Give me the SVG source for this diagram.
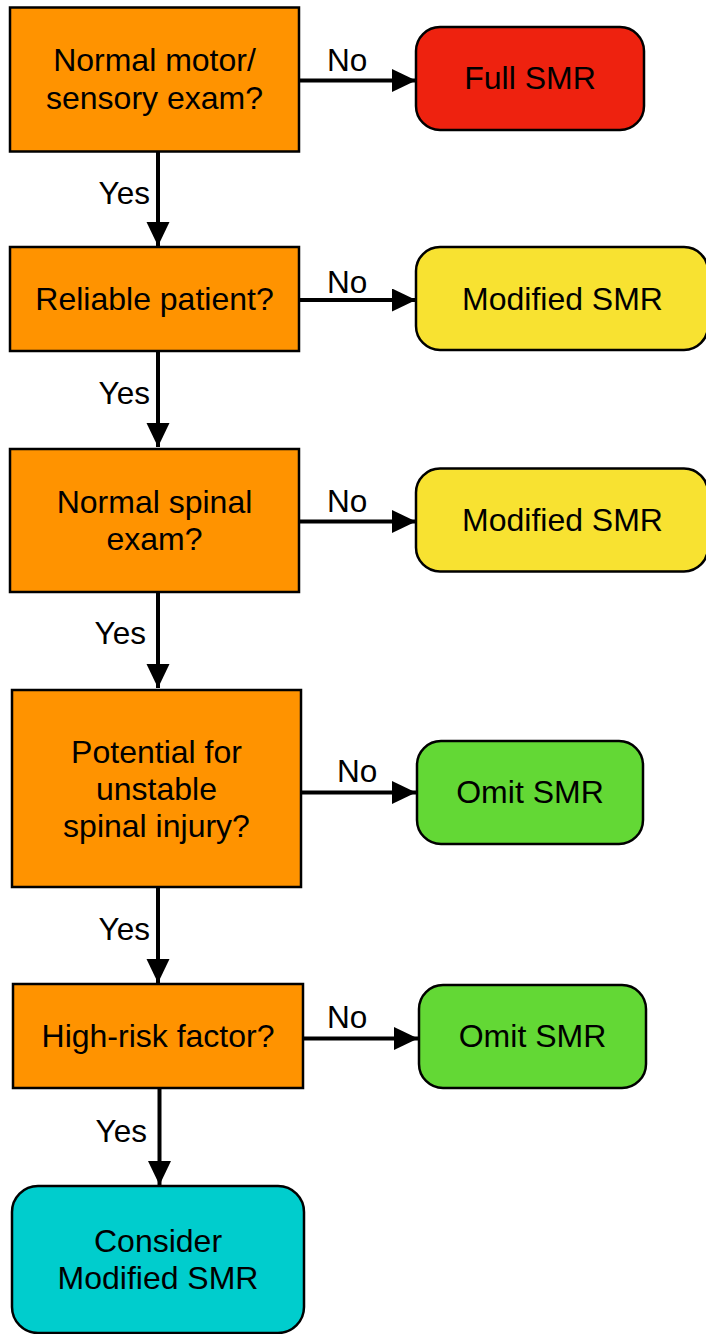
<svg xmlns="http://www.w3.org/2000/svg" width="706" height="1334" viewBox="0 0 706 1334">
<defs>
<marker id="arr" markerUnits="userSpaceOnUse" markerWidth="24" markerHeight="24" refX="24" refY="11.5" orient="auto">
<path d="M0,0 L24,11.5 L0,23 Z" fill="#000"/>
</marker>
<style>
.t{font-family:"Liberation Sans",Arial,Helvetica,sans-serif;font-size:32px;fill:#000;text-anchor:middle}
.l{font-family:"Liberation Sans",Arial,Helvetica,sans-serif;font-size:31.5px;fill:#000}
.q{fill:#FF9300;stroke:#000;stroke-width:2.5}
.red{fill:#EE220F;stroke:#000;stroke-width:2.5}
.yel{fill:#F8E231;stroke:#000;stroke-width:2.5}
.grn{fill:#63D835;stroke:#000;stroke-width:2.5}
.cyn{fill:#00CDCD;stroke:#000;stroke-width:2.5}
.c{stroke:#000;stroke-width:4;fill:none;marker-end:url(#arr)}
</style>
</defs>
<rect width="706" height="1334" fill="#fff"/>
<g id="connectors">
<line class="c" x1="299" y1="80.5" x2="416" y2="80.5"/>
<text class="l" x="327" y="71">No</text>
<line class="c" x1="158" y1="152" x2="158" y2="246"/>
<text class="l" x="150" y="204" text-anchor="end">Yes</text>
<line class="c" x1="299" y1="300" x2="416" y2="300"/>
<text class="l" x="327" y="293">No</text>
<line class="c" x1="158" y1="351" x2="158" y2="447"/>
<text class="l" x="150" y="404" text-anchor="end">Yes</text>
<line class="c" x1="299" y1="521.5" x2="416" y2="521.5"/>
<text class="l" x="327" y="511.5">No</text>
<line class="c" x1="158" y1="592" x2="158" y2="688"/>
<text class="l" x="146" y="644" text-anchor="end">Yes</text>
<line class="c" x1="301" y1="792.5" x2="416" y2="792.5"/>
<text class="l" x="337" y="782">No</text>
<line class="c" x1="158" y1="887" x2="158" y2="983"/>
<text class="l" x="150" y="940" text-anchor="end">Yes</text>
<line class="c" x1="303" y1="1038.5" x2="418" y2="1038.5"/>
<text class="l" x="327" y="1028">No</text>
<line class="c" x1="159.5" y1="1088" x2="159.5" y2="1185"/>
<text class="l" x="147" y="1142" text-anchor="end">Yes</text>
</g>
<g id="q1">
<rect class="q" x="10" y="7.5" width="289" height="144"/>
<text class="t" x="154.5" y="71">Normal motor/</text>
<text class="t" x="154.5" y="109">sensory exam?</text>
</g>
<g id="full">
<rect class="red" x="416" y="27" width="228" height="103" rx="24"/>
<text class="t" x="530" y="89">Full SMR</text>
</g>
<g id="q2">
<rect class="q" x="10" y="247" width="289" height="104"/>
<text class="t" x="154.5" y="310">Reliable patient?</text>
</g>
<g id="mod1">
<rect class="yel" x="416" y="247" width="292" height="103" rx="24"/>
<text class="t" x="562.5" y="310">Modified SMR</text>
</g>
<g id="q3">
<rect class="q" x="10" y="449" width="289" height="143"/>
<text class="t" x="154.5" y="513">Normal spinal</text>
<text class="t" x="154.5" y="550">exam?</text>
</g>
<g id="mod2">
<rect class="yel" x="416" y="468.5" width="292" height="103" rx="24"/>
<text class="t" x="562.5" y="531">Modified SMR</text>
</g>
<g id="q4">
<rect class="q" x="12" y="690" width="289" height="197"/>
<text class="t" x="156.5" y="763">Potential for</text>
<text class="t" x="156.5" y="800">unstable</text>
<text class="t" x="156.5" y="837">spinal injury?</text>
</g>
<g id="omit1">
<rect class="grn" x="417" y="741" width="226" height="103" rx="24"/>
<text class="t" x="530" y="803">Omit SMR</text>
</g>
<g id="q5">
<rect class="q" x="13" y="984" width="290" height="104"/>
<text class="t" x="158" y="1047">High-risk factor?</text>
</g>
<g id="omit2">
<rect class="grn" x="419" y="985" width="227" height="103" rx="24"/>
<text class="t" x="532.5" y="1047">Omit SMR</text>
</g>
<g id="consider">
<rect class="cyn" x="12" y="1186" width="292" height="147" rx="26"/>
<text class="t" x="158" y="1252">Consider</text>
<text class="t" x="158" y="1289">Modified SMR</text>
</g>
</svg>
